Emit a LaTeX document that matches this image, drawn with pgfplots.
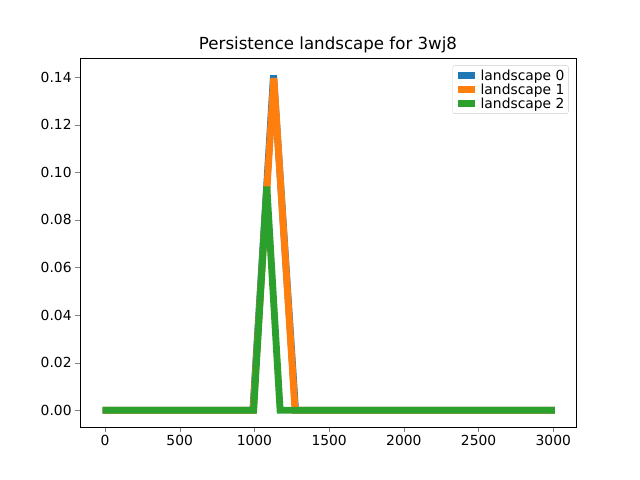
\documentclass[border=0pt]{standalone}
\usepackage{pgfplots}
\pgfplotsset{compat=1.18}
\usepackage{fontspec}
\setmainfont{DejaVu Sans}
\definecolor{c0}{HTML}{1F77B4}
\definecolor{c1}{HTML}{FF7F0E}
\definecolor{c2}{HTML}{2CA02C}
\begin{document}
\begin{tikzpicture}
\useasboundingbox (-80bp,-53bp) rectangle (560bp,427bp);
\begin{axis}[at={(0,0)},anchor=south west,
width=496bp,height=369bp,scale only axis,
xmin=-167,xmax=3152,ymin=-0.00705,ymax=0.148,
title={Persistence landscape for 3wj8},
title style={font=\fontsize{16.7}{19}\selectfont,yshift=-4pt},
tick label style={font=\fontsize{13.9}{16}\selectfont},
/pgf/number format/assume math mode=true,
/pgf/number format/1000 sep={},
xtick={0,500,1000,1500,2000,2500,3000},
ytick={0,0.02,0.04,0.06,0.08,0.1,0.12,0.14},
yticklabel style={/pgf/number format/fixed,/pgf/number format/fixed zerofill,/pgf/number format/precision=2},
scaled y ticks=false,
tick align=outside,xtick pos=bottom,ytick pos=left,
major tick length=4.9bp,
legend style={at={(0.985,0.98)},anchor=north east,font=\fontsize{13.9}{16}\selectfont,draw=black!20,rounded corners=2pt,inner sep=2pt,row sep=-2pt},
legend image post style={line width=6.9bp},
legend cell align=left,
]
\addplot[c0,line width=6.9bp] coordinates {(-15,0) (990,0) (1128,0.1407) (1275,0) (3010,0)};
\addlegendentry{landscape 0}
\addplot[c1,line width=6.9bp] coordinates {(-15,0) (992,0) (1130,0.1396) (1272,0) (3010,0)};
\addlegendentry{landscape 1}
\addplot[c2,line width=6.9bp] coordinates {(-15,0) (995,0) (1083,0.094) (1172,0) (3010,0)};
\addlegendentry{landscape 2}
\end{axis}
\end{tikzpicture}
\end{document}
